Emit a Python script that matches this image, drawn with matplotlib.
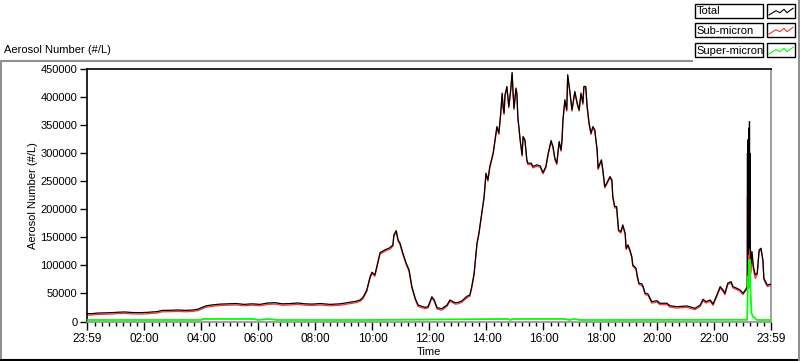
import matplotlib
matplotlib.use("Agg")
import matplotlib.pyplot as plt
from matplotlib.patches import Rectangle
from matplotlib.lines import Line2D

plt.rcParams['font.family'] = ['Liberation Sans', 'DejaVu Sans']

# ---- data (minutes after midnight; -1 == 23:59 of previous day) ----
t_min = [-1, 10, 20, 37, 52, 64, 79, 94, 111, 125, 136, 146, 157, 174, 191, 207, 222, 233, 241, 250,
         262, 279, 296, 313, 330, 346, 363, 380, 395, 410, 427, 443, 458, 473, 490, 511, 532, 553, 565, 574,
         580, 588, 595, 599, 605, 610, 616, 626, 637, 643, 645, 650, 654, 658, 664, 671, 677, 683, 690, 696,
         704, 711, 717, 725, 730, 736, 746, 757, 763, 774, 780, 788, 799, 805, 809, 814, 820, 824, 830, 835,
         839, 843, 847, 854, 858, 862, 866, 870, 873, 875, 877, 879, 883, 885, 887, 891, 894, 896, 898, 902,
         904, 906, 911, 915, 917, 921, 925, 927, 934, 938, 946, 953, 959, 965, 970, 976, 980, 984, 988, 993,
         997, 999, 1001, 1005, 1009, 1011, 1016, 1020, 1026, 1031, 1035, 1039, 1043, 1045, 1049, 1052, 1056, 1060, 1064, 1068,
         1073, 1075, 1079, 1082, 1085, 1089, 1093, 1100, 1104, 1106, 1110, 1114, 1118, 1123, 1127, 1132, 1134, 1138, 1142, 1146,
         1148, 1155, 1157, 1161, 1167, 1170, 1174, 1180, 1188, 1199, 1205, 1220, 1226, 1241, 1262, 1279, 1290, 1296, 1302, 1311,
         1317, 1325, 1332, 1338, 1342, 1348, 1355, 1359, 1367, 1374, 1380, 1386, 1389,
         1389.5, 1389.8, 1390.1, 1390.4, 1390.7, 1391.0, 1391.3, 1391.6, 1391.9, 1392.2,
         1392.5, 1392.8, 1393.1, 1393.4, 1393.7, 1394.0, 1394.3, 1394.6, 1395.5,
         1397, 1399, 1402, 1406, 1410, 1414, 1418, 1422, 1424, 1431, 1439]

total = [14000, 14000, 15000, 15500, 15800, 16500, 17000, 16000, 15800, 16200, 17000, 17500, 19800, 20000, 20500, 19800, 20500, 22000, 25000, 28000,
         29500, 31000, 31500, 32000, 30500, 31500, 30500, 33000, 33500, 31500, 32000, 33000, 31500, 31000, 32000, 30500, 31500, 34300, 36000, 38400,
         43000, 56000, 80000, 87800, 83000, 100800, 122700, 127500, 131700, 136500, 154300, 162000, 145400, 139500, 121700, 103800, 91900, 62100, 41400, 29400,
         27000, 25300, 26400, 44200, 38400, 24600, 22800, 29400, 38400, 33500, 34000, 36600, 45000, 47300, 62100, 86000, 139500, 157300, 193000, 222600,
         264400, 252400, 276200, 300100, 323800, 347500, 335800, 371400, 407100, 383200, 371400, 404100, 418900, 401000, 383200, 413000, 443900, 407100, 380300, 416000,
         407100, 365400, 323800, 297000, 329700, 323800, 288100, 282200, 282200, 276200, 279200, 277400, 265500, 276200, 300100, 322600, 311900, 291100, 282200, 320800,
         305900, 323800, 359500, 395200, 377300, 439800, 407100, 377300, 410000, 389300, 377300, 407100, 389300, 418900, 418900, 383200, 353600, 335800, 347500, 341600,
         305900, 273300, 282200, 288100, 270300, 240500, 246500, 258300, 252400, 222600, 204800, 204800, 163200, 160200, 172200, 157300, 130600, 136500, 127500, 115600,
         100800, 94900, 83000, 68200, 66900, 62100, 50300, 49100, 35300, 37100, 32500, 32500, 28200, 26400, 27700, 23500, 29400, 39600, 35300, 38400,
         31200, 47300, 62100, 56200, 50300, 68200, 71000, 62100, 59200, 56200, 50300, 57400, 62100,
         300000, 130000, 318000, 150000, 322000, 120000, 325000, 160000, 330000, 140000,
         338000, 170000, 345000, 130000, 356400, 200000, 300000, 250000, 133400,
         103800, 124500, 97700, 83000, 86000, 127500, 130600, 109700, 77100, 65100, 66400]

sub_micron = [11500, 11500, 12500, 13000, 13300, 14000, 14500, 13500, 13300, 13700, 14500, 15000, 17300, 17500, 18000, 17300, 18000, 19500, 22500, 25500,
              27000, 28500, 29000, 29500, 28000, 29000, 28000, 30500, 31000, 29000, 29500, 30500, 29000, 28500, 29500, 28000, 29000, 31800, 33500, 35900,
              40500, 53500, 77500, 85300, 80500, 98300, 120200, 125000, 129200, 134000, 151800, 159500, 142900, 137000, 119200, 101300, 89400, 59600, 38900, 26900,
              24500, 22800, 23900, 41700, 35900, 22100, 20300, 26900, 35900, 31000, 31500, 34100, 42500, 44800, 59600, 83500, 137000, 154800, 190500, 220100,
              261900, 249900, 273700, 297600, 321300, 345000, 333300, 368900, 404600, 380700, 368900, 401600, 416400, 398500, 380700, 410500, 441400, 404600, 377800, 413500,
              404600, 362900, 321300, 294500, 327200, 321300, 285600, 279700, 279700, 273700, 276700, 274900, 263000, 273700, 297600, 320100, 309400, 288600, 279700, 318300,
              303400, 321300, 357000, 392700, 374800, 437300, 404600, 374800, 407500, 386800, 374800, 404600, 386800, 416400, 416400, 380700, 351100, 333300, 345000, 339100,
              303400, 270800, 279700, 285600, 267800, 238000, 244000, 255800, 249900, 220100, 202300, 202300, 160700, 157700, 169700, 154800, 128100, 134000, 125000, 113100,
              98300, 92400, 80500, 65700, 64400, 59600, 47800, 46600, 32800, 34600, 30000, 30000, 25700, 23900, 25200, 21000, 26900, 37100, 32800, 35900,
              28700, 44800, 59600, 53700, 47800, 65700, 68500, 59600, 56700, 53700, 47800, 54900, 59400,
              220000, 90000, 238000, 100000, 240000, 80000, 245000, 110000, 250000, 95000,
              255000, 120000, 260000, 90000, 246400, 150000, 220000, 170000, 82600,
              88800, 116000, 91500, 76800, 83300, 124800, 127900, 107000, 74400, 62400, 63700]

t_super = [-1, 120, 240, 242, 300, 349, 360, 380, 400, 423, 600, 885, 890, 896, 1005, 1015, 1025, 1037, 1100,
           1389, 1390.5, 1391.5, 1392.5, 1393.5, 1394.5, 1396, 1398, 1401, 1405, 1409, 1439]
super_micron = [2700, 2700, 2700, 4500, 4500, 4500, 2700, 4500, 2700, 2700, 2700, 4500, 2700, 4500, 4500, 2700, 4500, 2700, 2700,
                3000, 80000, 60000, 109700, 90000, 110000, 50800, 15000, 8600, 6200, 2700, 2700]

y_ticks = [0, 50000, 100000, 150000, 200000, 250000, 300000, 350000, 400000, 450000]
x_major = [-1, 120, 240, 360, 480, 600, 720, 840, 960, 1080, 1200, 1320, 1439]
x_labels = ["23:59", "02:00", "04:00", "06:00", "08:00", "10:00", "12:00",
            "14:00", "16:00", "18:00", "20:00", "22:00", "23:59"]
series_names = ["Total", "Sub-micron", "Super-micron"]
series_colors = ["#000000", "#ff3030", "#00ff00"]

# ---- figure ----
W, H = 800, 361
fig = plt.figure(figsize=(W / 100, H / 100), dpi=100)
fig.patch.set_facecolor("white")

def fx(x):
    return x / W

def fy(y):
    return 1 - y / H

ax = fig.add_axes([fx(87), fy(321.5), fx(771) - fx(87), fy(69) - fy(321.5)])
ax.set_facecolor("white")

ax.plot(t_min, sub_micron, color=series_colors[1], lw=0.9, zorder=2)
ax.plot(t_min, total, color=series_colors[0], lw=0.9, zorder=3)
ax.plot(t_super, super_micron, color=series_colors[2], lw=1.3, zorder=4)

ax.set_xlim(-1, 1439)
ax.set_ylim(0, 450000)
ax.set_yticks(y_ticks)
ax.set_yticklabels([str(v) for v in y_ticks])
ax.set_xticks(x_major)
ax.set_xticklabels(x_labels)
ax.set_xticks(list(range(15, 1439, 15)), minor=True)

ax.tick_params(axis='y', direction='out', length=5, width=1, pad=2, labelsize=8, colors='black')
ax.tick_params(axis='x', which='major', direction='out', length=6, width=1, pad=2, labelsize=8.5)
ax.tick_params(axis='x', which='minor', direction='out', length=3, width=1)

for side in ['left', 'top']:
    ax.spines[side].set_color('black')
    ax.spines[side].set_linewidth(1.2)
for side in ['right', 'bottom']:
    ax.spines[side].set_color('#909090')
    ax.spines[side].set_linewidth(1.2)

ax.set_ylabel("Aerosol Number (#/L)", fontsize=8, labelpad=2)
ax.set_xlabel("Time", fontsize=8, labelpad=2)

fig.text(fx(4), fy(50), "Aerosol Number (#/L)", fontsize=8, ha='left', va='center')

# outer frame
fig.add_artist(Line2D([fx(0), fx(692)], [fy(61), fy(61)], color='#909090', lw=1.5))
fig.add_artist(Line2D([fx(0.7), fx(0.7)], [fy(61), fy(361)], color='#909090', lw=1.5))
fig.add_artist(Line2D([fx(0), fx(800)], [fy(360), fy(360)], color='black', lw=1.5))
fig.add_artist(Line2D([fx(799), fx(799)], [fy(0), fy(361)], color='#909090', lw=1.5))

# legend
rows_top = [4, 23, 43]
zig_x = [769, 776, 780, 784, 787, 793]
zig_dy = [11, 6.7, 8.7, 5.3, 8.7, 4.3]
for name, col, top in zip(series_names, series_colors, rows_top):
    fig.add_artist(Rectangle((fx(695), fy(top + 14)), fx(763) - fx(695), fy(top) - fy(top + 14),
                             facecolor='white', edgecolor='black', lw=1.0))
    fig.add_artist(Rectangle((fx(767), fy(top + 14)), fx(795) - fx(767), fy(top) - fy(top + 14),
                             facecolor='white', edgecolor='black', lw=1.0))
    fig.text(fx(696.5), fy(top + 7.5), name, fontsize=8, ha='left', va='center')
    fig.add_artist(Line2D([fx(x) for x in zig_x], [fy(top + d) for d in zig_dy], color=col, lw=0.8))

fig.savefig("out.png", dpi=100)
